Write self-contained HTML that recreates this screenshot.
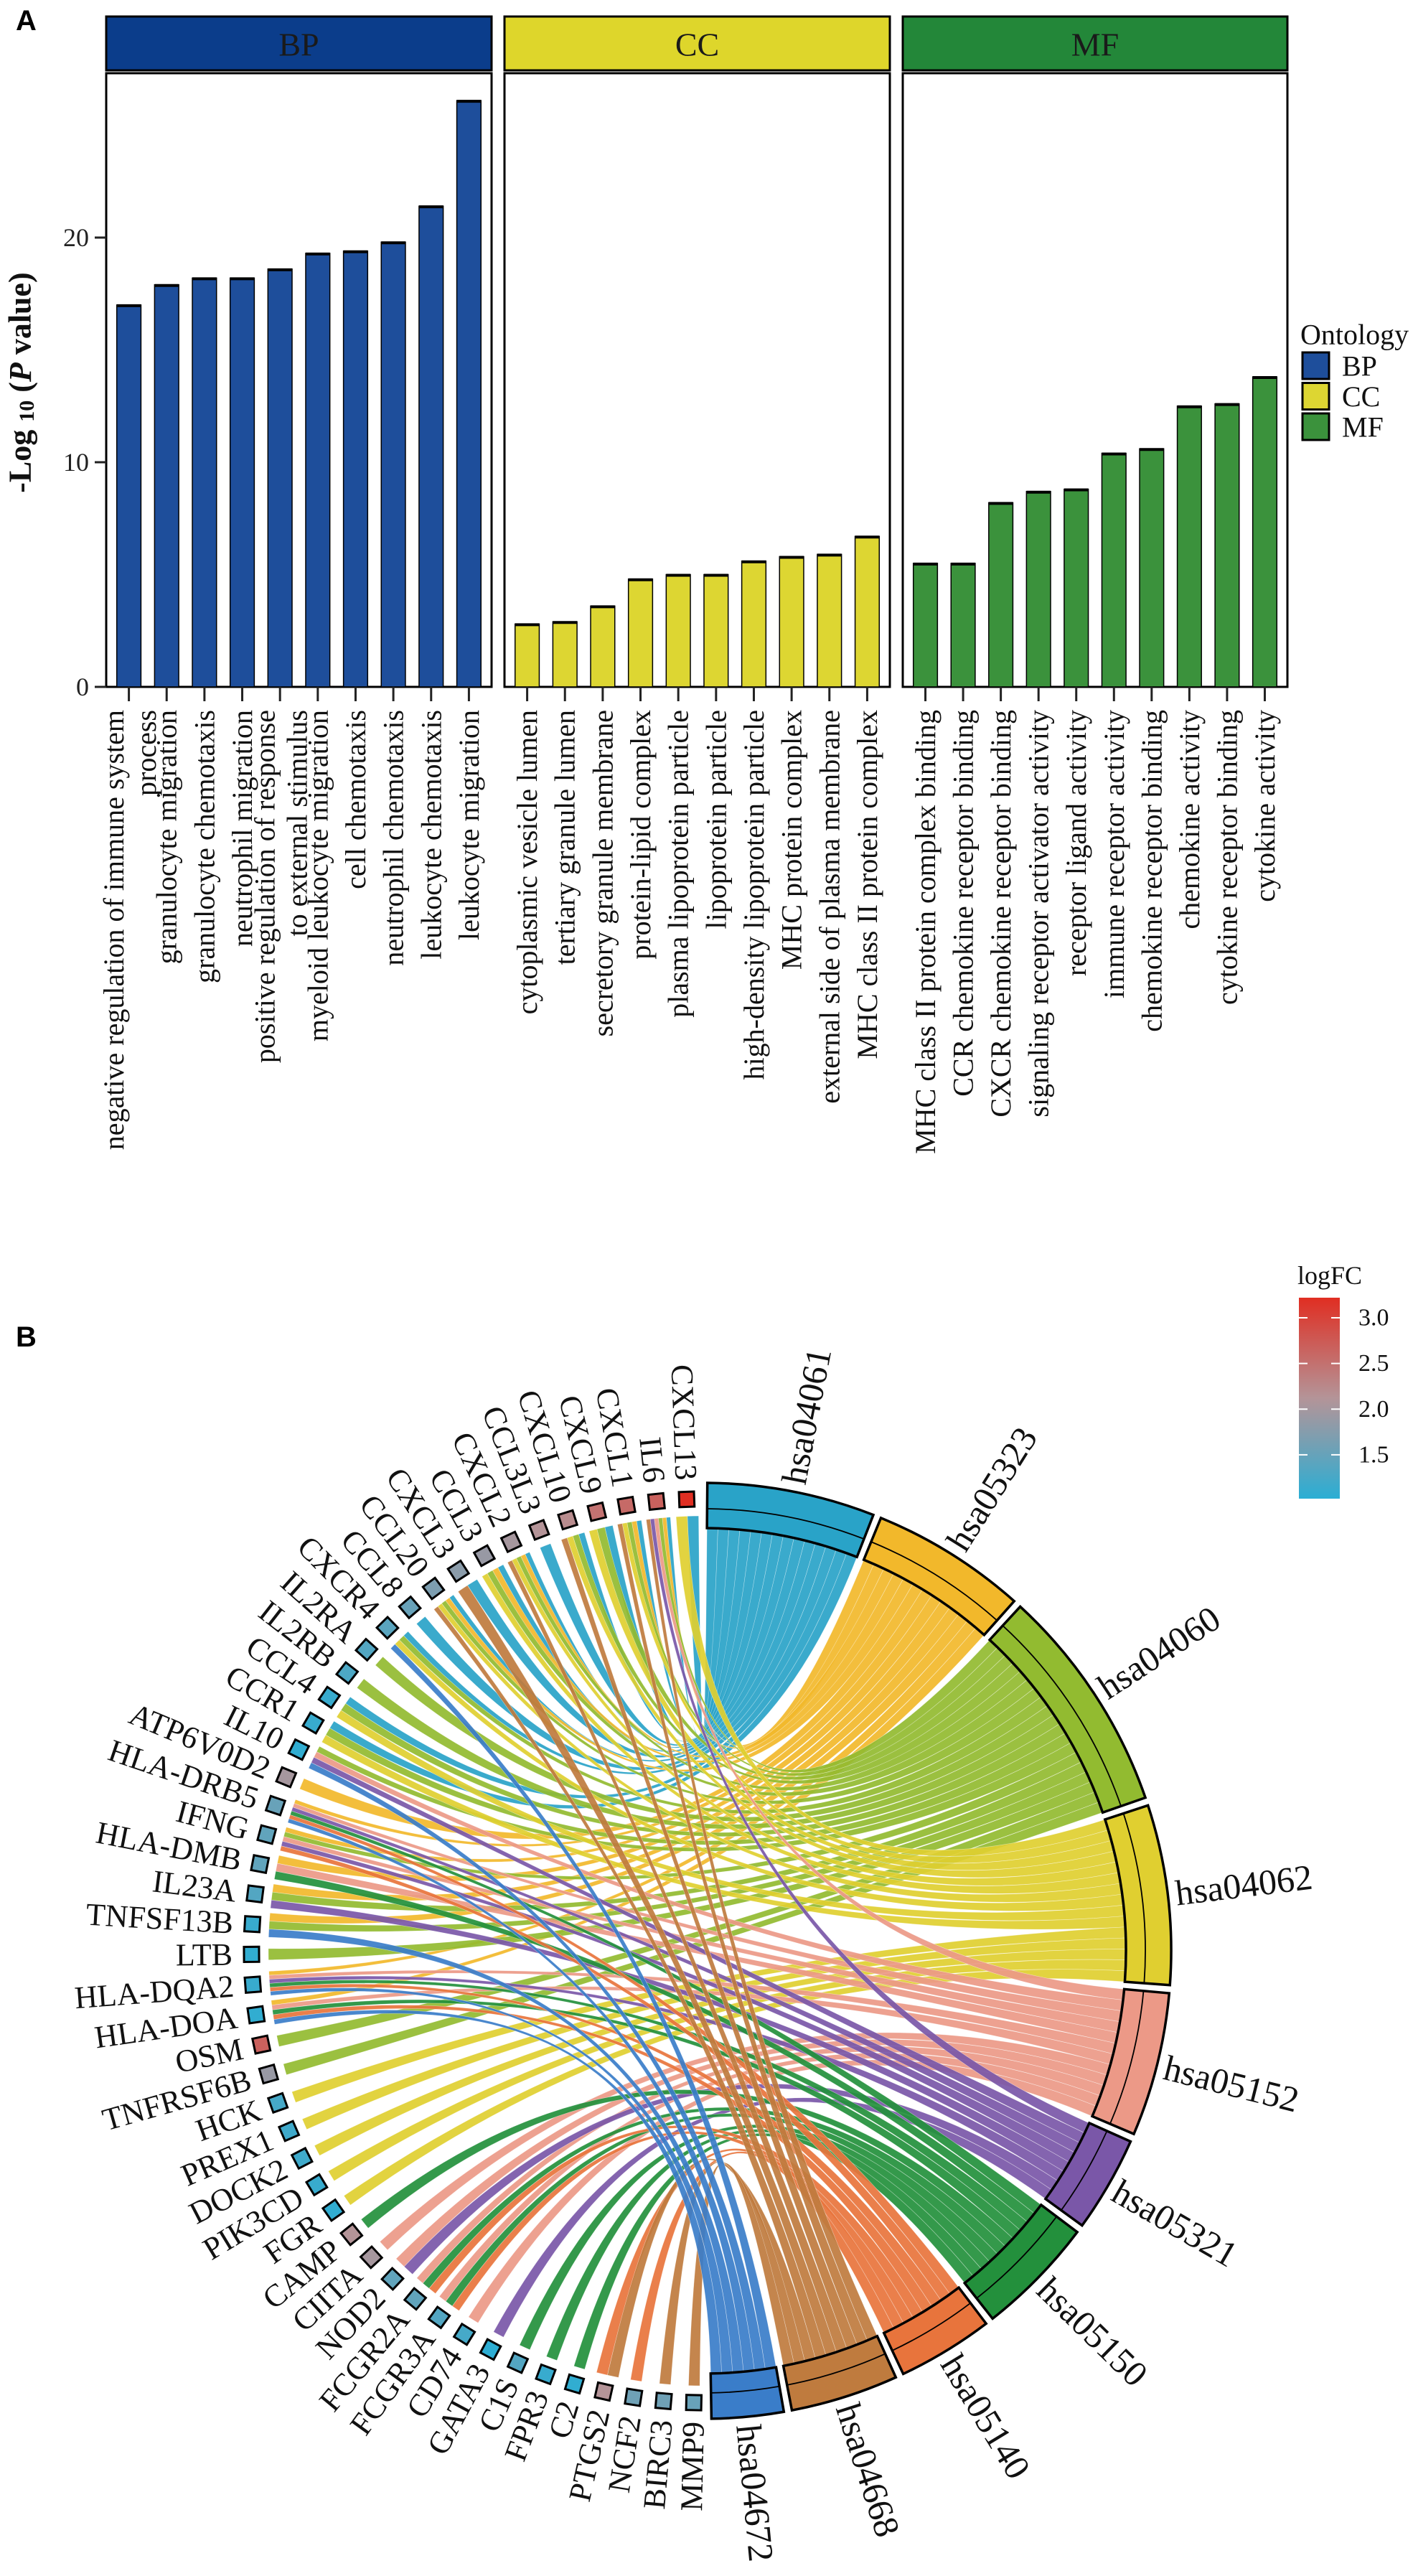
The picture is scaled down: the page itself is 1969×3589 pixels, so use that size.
<!DOCTYPE html>
<html><head><meta charset="utf-8"><style>
html,body{margin:0;padding:0;background:#fff;}
svg{display:block;font-family:"Liberation Serif",serif;}
</style></head><body>
<svg id="fig" width="1969" height="3589" viewBox="0 0 1969 3589" xmlns="http://www.w3.org/2000/svg">
<text x="22" y="42" font-family="Liberation Sans, sans-serif" font-weight="bold" font-size="40">A</text>
<text x="22" y="1876" font-family="Liberation Sans, sans-serif" font-weight="bold" font-size="40">B</text>
<g id="panelA"></g>
<g id="panelB"></g>
</svg>
<script>
// ---------- Panel A data ----------
const bpTerms = [["negative regulation of immune system","process"],["granulocyte migration"],["granulocyte chemotaxis"],["neutrophil migration"],["positive regulation of response","to external stimulus"],["myeloid leukocyte migration"],["cell chemotaxis"],["neutrophil chemotaxis"],["leukocyte chemotaxis"],["leukocyte migration"]];
const bpValues = [17.0,17.9,18.2,18.2,18.6,19.3,19.4,19.8,21.4,26.1];
const ccTerms = [["cytoplasmic vesicle lumen"],["tertiary granule lumen"],["secretory granule membrane"],["protein-lipid complex"],["plasma lipoprotein particle"],["lipoprotein particle"],["high-density lipoprotein particle"],["MHC protein complex"],["external side of plasma membrane"],["MHC class II protein complex"]];
const ccValues = [2.8,2.9,3.6,4.8,5.0,5.0,5.6,5.8,5.9,6.7];
const mfTerms = [["MHC class II protein complex binding"],["CCR chemokine receptor binding"],["CXCR chemokine receptor binding"],["signaling receptor activator activity"],["receptor ligand activity"],["immune receptor activity"],["chemokine receptor binding"],["chemokine activity"],["cytokine receptor binding"],["cytokine activity"]];
const mfValues = [5.5,5.5,8.2,8.7,8.8,10.4,10.6,12.5,12.6,13.8];
const ontologyNames = ["BP","CC","MF"];
const yTicks = [0,10,20];

// ---------- Panel B data ----------
const pathways = ["hsa04061","hsa05323","hsa04060","hsa04062","hsa05152","hsa05321","hsa05150","hsa05140","hsa04668","hsa04672"];
const genes = ["CXCL13","IL6","CXCL1","CXCL9","CXCL10","CCL3L3","CXCL2","CCL3","CXCL3","CCL20","CCL8","CXCR4","IL2RA","IL2RB","CCL4","CCR1","IL10","ATP6V0D2","HLA-DRB5","IFNG","HLA-DMB","IL23A","TNFSF13B","LTB","HLA-DQA2","HLA-DOA","OSM","TNFRSF6B","HCK","PREX1","DOCK2","PIK3CD","FGR","CAMP","CIITA","NOD2","FCGR2A","FCGR3A","CD74","GATA3","C1S","FPR3","C2","PTGS2","NCF2","BIRC3","MMP9"];
const logFC = [3.2,2.6,2.5,2.4,2.1,2.0,1.9,1.8,1.7,1.6,1.45,1.35,1.3,1.25,1.1,1.1,1.05,1.9,1.45,1.4,1.4,1.3,1.1,1.05,1.1,1.05,2.6,1.8,1.2,1.15,1.15,1.1,1.05,2.0,1.9,1.4,1.4,1.3,1.2,1.02,1.3,1.1,1.05,2.0,1.5,1.5,1.45];
const pathwayGenes0 = ["CXCL13","IL6","CXCL1","CXCL9","CXCL10","CCL3L3","CXCL2","CCL3","CXCL3","CCL20","CCL8","CXCR4","CCL4","CCR1"];
const pathwayGenes1 = ["IL6","CXCL1","CXCL2","CCL3","CCL20","ATP6V0D2","HLA-DRB5","IFNG","HLA-DMB","IL23A","TNFSF13B","HLA-DQA2","HLA-DOA"];
const pathwayGenes2 = ["IL6","CXCL1","CXCL9","CXCL10","CXCL2","CCL3","CCL20","CXCR4","IL2RA","IL2RB","CCL4","CCR1","IL10","IFNG","IL23A","TNFSF13B","LTB","OSM","TNFRSF6B"];
const pathwayGenes3 = ["CXCL13","CXCL1","CXCL9","CXCL10","CXCL2","CCL3","CCL20","CXCR4","CCL4","CCR1","HCK","PREX1","DOCK2","PIK3CD","FGR"];
const pathwayGenes4 = ["IL6","IL10","HLA-DRB5","IFNG","HLA-DMB","HLA-DQA2","HLA-DOA","CIITA","NOD2","FCGR2A","FCGR3A","CD74"];
const pathwayGenes5 = ["IL6","IL10","HLA-DRB5","IFNG","IL23A","HLA-DQA2","NOD2","GATA3"];
const pathwayGenes6 = ["HLA-DRB5","HLA-DMB","HLA-DQA2","HLA-DOA","CAMP","FCGR2A","FCGR3A","C1S","FPR3","C2"];
const pathwayGenes7 = ["HLA-DRB5","IFNG","HLA-DQA2","HLA-DOA","FCGR2A","FCGR3A","PTGS2","NCF2"];
const pathwayGenes8 = ["IL6","CXCL1","CXCL10","CXCL2","CXCL3","CCL20","PTGS2","BIRC3","MMP9"];
const pathwayGenes9 = ["IL10","CXCR4","HLA-DRB5","TNFSF13B","HLA-DQA2","HLA-DOA"];
const colorbarTicks = [1.5,2.0,2.5,3.0];

const NS="http://www.w3.org/2000/svg";
function mk(tag,parent,attrs){const e=document.createElementNS(NS,tag);for(const k in attrs)e.setAttribute(k,attrs[k]);parent.appendChild(e);return e;}

// ================= Panel A =================
(function(){
  const g=document.getElementById('panelA');
  const panels=[{x0:148,x1:685,terms:bpTerms,vals:bpValues,strip:"#0b3d8b",fill:"#1e4e9b"},
                {x0:703,x1:1240,terms:ccTerms,vals:ccValues,strip:"#ded62b",fill:"#ddd632"},
                {x0:1258,x1:1794,terms:mfTerms,vals:mfValues,strip:"#238739",fill:"#3b923c"}];
  const yTop=102,yBot=957,pxPer=31.3;
  const y=v=>yBot-v*pxPer;
  panels.forEach((p,pi)=>{
    const w=p.x1-p.x0,unit=w/(p.vals.length+0.2);
    const xs=k=>p.x0+(k+0.6)*unit;
    const s=mk('rect',g,{x:p.x0,y:23,width:w,height:75,fill:p.strip,stroke:'#000','stroke-width':3});
    
    
    const st=mk('text',g,{x:(p.x0+p.x1)/2,y:62,'text-anchor':'middle','dominant-baseline':'central','font-size':46,fill:'#1a1a1a'});
    st.textContent=ontologyNames[pi];
    
    
    const fr=mk('rect',g,{x:p.x0,y:yTop,width:w,height:yBot-yTop,fill:'none',stroke:'#000','stroke-width':3});
    
    
    p.vals.forEach((v,k)=>{
      const bw=unit*0.64;
      const b=mk('rect',g,{x:xs(k)-bw/2,y:y(v),width:bw,height:yBot-y(v),fill:p.fill,stroke:'#000','stroke-width':1.5});
      
      
      mk('line',g,{x1:xs(k)-bw/2,x2:xs(k)+bw/2,y1:y(v)+1,y2:y(v)+1,stroke:'#000','stroke-width':4});
      mk('line',g,{x1:xs(k),x2:xs(k),y1:yBot,y2:yBot+20,stroke:'#222','stroke-width':3});
      const lines=p.terms[k];
      const offs=lines.length===1?[0]:[-21,24];
      lines.forEach((ln,li)=>{
        const t=mk('text',g,{transform:`translate(${xs(k)+offs[li]},989) rotate(-90)`,'text-anchor':'end','dominant-baseline':'central','font-size':40,fill:'#111'});
        t.textContent=ln;
        
        
      });
    });
  });
  yTicks.forEach(v=>{
    mk('line',g,{x1:132,x2:148,y1:y(v),y2:y(v),stroke:'#222','stroke-width':3});
    const t=mk('text',g,{x:124,y:y(v),'text-anchor':'end','dominant-baseline':'central','font-size':36,fill:'#222'});
    t.textContent=v;
    
    
  });
  const yt=mk('text',g,{transform:'translate(28,533) rotate(-90)','text-anchor':'middle','dominant-baseline':'central','font-size':44,'font-weight':'bold',fill:'#111'});
  
  
  yt.innerHTML='-Log <tspan font-size="30" dy="9">10</tspan><tspan dy="-9"> (</tspan><tspan font-style="italic">P</tspan> value)';
  const lt=mk('text',g,{x:1812,y:466,'dominant-baseline':'central','font-size':40,fill:'#111'});
  lt.textContent='Ontology';
  
  
  panels.forEach((p,pi)=>{
    const ky=491+pi*42.5;
    const r=mk('rect',g,{x:1815,y:ky,width:37,height:37,fill:p.fill,stroke:'#000','stroke-width':3});
    
    
    const t=mk('text',g,{x:1870,y:ky+19,'dominant-baseline':'central','font-size':40,fill:'#111'});
    t.textContent=ontologyNames[pi];
    
    
  });
})();

// ================= Panel B =================
(function(){
  const g=document.getElementById('panelB');
  const cx=980,cy=2718;
  const pColors=["#29a3c8","#f2b82b","#92bb30","#e0cf30","#ec9987","#7a57a8","#23903c","#e8743c","#bf7b3e","#3a7dc9"];
  const pGenes=[pathwayGenes0,pathwayGenes1,pathwayGenes2,pathwayGenes3,pathwayGenes4,pathwayGenes5,pathwayGenes6,pathwayGenes7,pathwayGenes8,pathwayGenes9];
  const rad=a=>a*Math.PI/180;
  const pt=(r,a)=>[cx+r*Math.sin(rad(a)),cy-r*Math.cos(rad(a))];
  const P=(r,a)=>pt(r,a).map(v=>v.toFixed(2)).join(' ');
  function colFC(v){
    const s=[[1.0,[42,174,212]],[2.0,[180,148,152]],[3.2,[224,46,34]]];
    v=Math.max(1,Math.min(3.2,v));
    let i=v<=2?0:1;const [a,ca]=s[i],[b,cb]=s[i+1];const t=(v-a)/(b-a);
    return 'rgb('+ca.map((c,j)=>Math.round(c+(cb[j]-c)*t)).join(',')+')';
  }
  const total=pGenes.reduce((s,a)=>s+a.length,0);
  const gap=1,startA=0.5,endA=179;
  const unit=(endA-startA-gap*(pathways.length-1))/total;
  const pStart=[];let a0=startA;
  pGenes.forEach((arr,i)=>{pStart.push(a0);a0+=arr.length*unit+gap;});
  const gStep=(178.8-2.1)/(genes.length-1);
  const gAng=i=>-(2.1+i*gStep);
  const gLinks=genes.map(()=>[]);
  pGenes.forEach((arr,pi)=>arr.forEach(gn=>{const gi=genes.indexOf(gn);if(gi>=0)gLinks[gi].push(pi);}));
  const rG=606,rP=589;
  const chords=mk('g',g,{});
  
  
  pGenes.forEach((arr,pi)=>{
    const sorted=arr.map(gn=>genes.indexOf(gn)).filter(i=>i>=0).sort((a,b)=>a-b);
    sorted.forEach((gi,slot)=>{
      const pb1=pStart[pi]+slot*unit, pb2=pb1+unit;
      const links=gLinks[gi].slice().sort((a,b)=>a-b);
      const k=links.indexOf(pi),n=links.length;
      const w=Math.min(unit,3.2/n);
      const top=gAng(gi)+w*n/2;
      const ga1=top-k*w, ga2=ga1-w;
      const d=`M${P(rG,ga1)} A${rG} ${rG} 0 0 0 ${P(rG,ga2)} Q${cx} ${cy} ${P(rP,pb2)} A${rP} ${rP} 0 0 0 ${P(rP,pb1)} Q${cx} ${cy} ${P(rG,ga1)} Z`;
      const c=mk('path',chords,{d:d,fill:pColors[pi],'fill-opacity':0.92,stroke:'#fff','stroke-width':0.6,'stroke-opacity':0.5});
      
      
    });
  });
  pathways.forEach((pw,pi)=>{
    const s=pStart[pi],e=s+pGenes[pi].length*unit;
    const r1=589,r2=652;
    const d=`M${P(r2,s)} A${r2} ${r2} 0 0 1 ${P(r2,e)} L${P(r1,e)} A${r1} ${r1} 0 0 0 ${P(r1,s)} Z`;
    const a=mk('path',g,{d:d,fill:pColors[pi],stroke:'#000','stroke-width':3.5,'stroke-linejoin':'miter'});
    
    
    mk('path',g,{d:`M${P(616,s)} A616 616 0 0 1 ${P(616,e)}`,fill:'none',stroke:'#000','stroke-width':1.8});
    const m=(s+e)/2,[x,y]=pt(663,m);
    const t=mk('text',g,{transform:`translate(${x.toFixed(1)},${y.toFixed(1)}) rotate(${(m-90).toFixed(2)})`,'text-anchor':'start','dominant-baseline':'central','font-size':50,fill:'#111'});
    t.textContent=pw;
    
    
  });
  genes.forEach((gn,gi)=>{
    const a=gAng(gi),[x,y]=pt(629.5,a);
    const b=mk('rect',g,{x:-10.5,y:-10.5,width:21,height:21,transform:`translate(${x.toFixed(1)},${y.toFixed(1)}) rotate(${a.toFixed(2)})`,fill:colFC(logFC[gi]),stroke:'#000','stroke-width':3});
    
    
    const [tx,ty]=pt(656,a);
    const t=mk('text',g,{transform:`translate(${tx.toFixed(1)},${ty.toFixed(1)}) rotate(${(a+90).toFixed(2)})`,'text-anchor':'end','dominant-baseline':'central','font-size':44,fill:'#111'});
    t.textContent=gn;
    
    
  });
  const defs=mk('defs',g,{});
  const lg=mk('linearGradient',defs,{id:'fcgrad',x1:0,y1:1,x2:0,y2:0});
  [[0,1.0],[0.5,2.0],[1,3.2]].forEach(([o,v])=>mk('stop',lg,{offset:o,'stop-color':colFC(v)}));
  const vTop=3.22,vBot=1.02,yT=1808,yB=2088;
  const yc=v=>yB-(v-vBot)/(vTop-vBot)*(yB-yT);
  const cb=mk('rect',g,{x:1810,y:yT,width:57,height:yB-yT,fill:'url(#fcgrad)'});
  
  
  const ct=mk('text',g,{x:1808,y:1777,'dominant-baseline':'central','font-size':36,fill:'#111'});
  ct.textContent='logFC';
  
  
  colorbarTicks.forEach(v=>{
    mk('line',g,{x1:1810,x2:1822,y1:yc(v),y2:yc(v),stroke:'#fff','stroke-width':2});
    mk('line',g,{x1:1855,x2:1867,y1:yc(v),y2:yc(v),stroke:'#fff','stroke-width':2});
    const t=mk('text',g,{x:1893,y:yc(v),'dominant-baseline':'central','font-size':34,fill:'#111'});
    t.textContent=v.toFixed(1);
    
    
  });
})();
</script>
</body></html>
